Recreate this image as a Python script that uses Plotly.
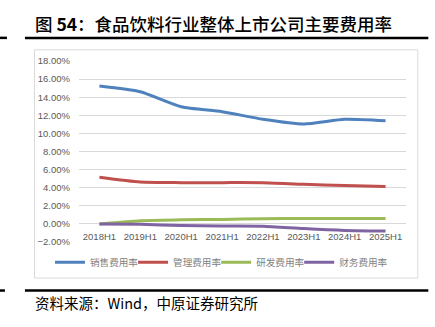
import plotly.graph_objects as go

categories = ["2018H1", "2019H1", "2020H1", "2021H1", "2022H1", "2023H1", "2024H1", "2025H1"]
sales = [15.24, 14.61, 12.95, 12.40, 11.56, 11.04, 11.56, 11.40]
admin = [5.15, 4.62, 4.56, 4.56, 4.55, 4.37, 4.24, 4.13]
rnd = [0.00, 0.36, 0.45, 0.50, 0.57, 0.60, 0.60, 0.60]
finance = [0.00, -0.05, -0.18, -0.23, -0.25, -0.52, -0.72, -0.78]
series_names = ["销售费用率", "管理费用率", "研发费用率", "财务费用率"]
colors = ["#4F81BD", "#C0504D", "#9BBB59", "#8064A2"]
y_ticks = [-2, 0, 2, 4, 6, 8, 10, 12, 14, 16, 18]

W, H = 435, 327
L, R, T, B = 79, 29.3, 60.7, 84.7

def px_x(p):
    return (p - L) / (W - L - R)

def px_y(p):
    return (H - B - p) / (H - T - B)

legend_ids = ["legend", "legend2", "legend3", "legend4"]
legend_text_x = [90, 173, 256, 339]

fig = go.Figure()
for name, vals, c, lid in zip(series_names, [sales, admin, rnd, finance], colors, legend_ids):
    fig.add_trace(go.Scatter(
        x=categories, y=[v / 100 for v in vals], name=name, mode="lines",
        line=dict(color=c, width=3, shape="spline", smoothing=0.6),
        hoverinfo="skip", legend=lid,
    ))

shapes = [
    dict(type="rect", xref="paper", yref="paper", x0=px_x(34.5), x1=px_x(417.5),
         y0=px_y(278.5), y1=px_y(49.5), line=dict(color="#D9D9D9", width=1), layer="below"),
    dict(type="line", xref="paper", yref="paper", x0=px_x(25), x1=px_x(428),
         y0=px_y(37.5), y1=px_y(37.5), line=dict(color="#000000", width=2.5)),
    dict(type="line", xref="paper", yref="paper", x0=px_x(0), x1=px_x(7),
         y0=px_y(37.5), y1=px_y(37.5), line=dict(color="#000000", width=2.5)),
    dict(type="line", xref="paper", yref="paper", x0=px_x(25), x1=px_x(428),
         y0=px_y(291), y1=px_y(291), line=dict(color="#000000", width=2.5)),
    dict(type="line", xref="paper", yref="paper", x0=px_x(0), x1=px_x(5),
         y0=px_y(291), y1=px_y(291), line=dict(color="#000000", width=2.5)),
]

annotations = [
    dict(text="图 <b>54</b>：食品饮料行业整体上市公司主要费用率", xref="paper", yref="paper",
         x=px_x(33), y=px_y(23.5), xanchor="left", yanchor="middle", showarrow=False,
         font=dict(family="Noto Sans CJK SC", size=17.5, color="#000000", weight=500)),
    dict(text="资料来源：Wind，中原证券研究所", xref="paper", yref="paper",
         x=px_x(33), y=px_y(303.5), xanchor="left", yanchor="middle", showarrow=False,
         font=dict(family="Noto Sans CJK SC", size=14.5, color="#000000")),
]

layout_legends = {}
for lid, tx in zip(legend_ids, legend_text_x):
    layout_legends[lid] = dict(
        orientation="h", x=px_x(tx - 40), y=px_y(262.5), xanchor="left", yanchor="middle",
        bgcolor="rgba(0,0,0,0)", borderwidth=0,
        font=dict(family="Noto Sans CJK SC", size=9.6, color="#7F7F7F"),
        itemwidth=30,
    )

fig.update_layout(
    width=W, height=H,
    margin=dict(l=L, r=R, t=T, b=B, pad=0),
    paper_bgcolor="white", plot_bgcolor="white",
    shapes=shapes, annotations=annotations,
    showlegend=True,
    xaxis=dict(
        type="category", anchor="free", position=0.1,
        showgrid=False, showline=False, zeroline=False,
        ticks="outside", ticklen=4, tickcolor="rgba(0,0,0,0)",
        tickfont=dict(family="Liberation Sans, Arial", size=9.5, color="#595959"),
        range=[-0.5, 7.5], fixedrange=True,
    ),
    yaxis=dict(
        range=[-0.02, 0.18], tickvals=[v / 100 for v in y_ticks], tickformat=".2%",
        showgrid=True, gridcolor="#D9D9D9", gridwidth=1,
        zeroline=True, zerolinecolor="#D9D9D9", zerolinewidth=1,
        showline=False, ticks="", ticklabelstandoff=8,
        tickfont=dict(family="Liberation Sans, Arial", size=9.5, color="#595959"),
        fixedrange=True,
    ),
    **layout_legends,
)

fig.write_html("out.html")
